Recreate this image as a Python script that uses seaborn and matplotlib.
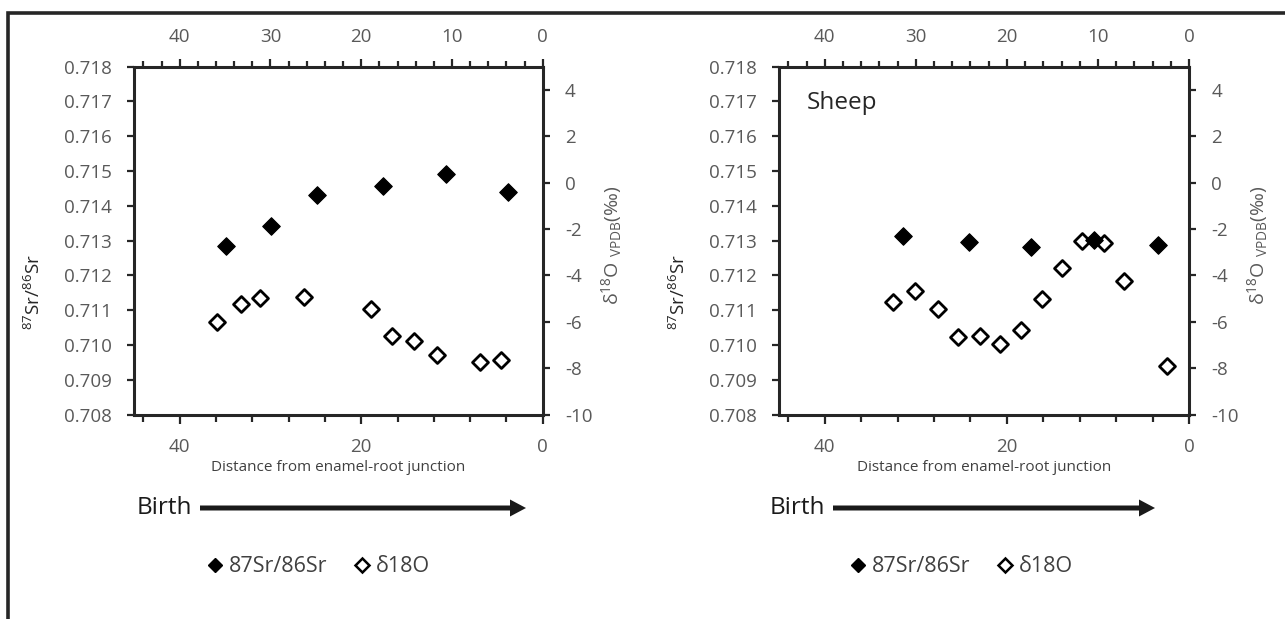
import matplotlib
matplotlib.use("Agg")
import numpy as np
import pandas as pd
import matplotlib.pyplot as plt
import seaborn as sns
from matplotlib.ticker import MultipleLocator, FixedLocator, FormatStrFormatter
from matplotlib.lines import Line2D
from matplotlib.patches import FancyArrow
from matplotlib.transforms import IdentityTransform

sns.set_theme(style="ticks")
plt.rcParams["font.family"] = ["Open Sans", "DejaVu Sans"]
plt.rcParams["mathtext.fontset"] = "custom"
plt.rcParams["mathtext.rm"] = "Open Sans"
plt.rcParams["mathtext.it"] = "Open Sans:italic"
plt.rcParams["mathtext.bf"] = "Open Sans:bold"
plt.rcParams["axes.unicode_minus"] = False

# ---------------- data ----------------
# left panel
sr_dist_left = [34.9, 29.9, 24.9, 17.6, 10.7, 3.8]
sr_left = [0.71284, 0.71343, 0.71432, 0.71456, 0.71492, 0.71440]
o_dist_left = [35.9, 33.2, 31.1, 26.3, 18.9, 16.6, 14.2, 11.7, 6.9, 4.6]
o_left = [-5.99, -5.25, -4.99, -4.94, -5.44, -6.61, -6.82, -7.44, -7.73, -7.67]

# right panel (Sheep)
sr_dist_right = [31.4, 24.2, 17.4, 10.4, 3.4]
sr_right = [0.71314, 0.71295, 0.71281, 0.71302, 0.71286]
o_dist_right = [32.5, 30.1, 27.6, 25.4, 23.0, 20.8, 18.5, 16.2, 14.0, 11.7, 9.3, 7.1, 2.4]
o_right = [-5.13, -4.69, -5.43, -6.66, -6.60, -6.95, -6.35, -5.02, -3.69, -2.50, -2.62, -4.26, -7.90]

sr_ticks = [0.708, 0.709, 0.710, 0.711, 0.712, 0.713, 0.714, 0.715, 0.716, 0.717, 0.718]
o_ticks = [-10, -8, -6, -4, -2, 0, 2, 4]
top_ticks = [0, 10, 20, 30, 40]
bottom_ticks = [0, 20, 40]

panel_titles = ["", "Sheep"]
legend_labels = ["87Sr/86Sr", "δ18O"]
x_label = "Distance from enamel-root junction"
sr_label = r"$^{87}$Sr/$^{86}$Sr"
o_label = r"δ$^{18}$O $_{\mathrm{VPDB}}$(‰)"

# ---------------- figure ----------------
W, H = 1285, 619
fig = plt.figure(figsize=(W / 100, H / 100), dpi=100)
fig.patch.set_facecolor("white")

TICK_C = "#595959"
DARK = "#262626"
AX_TOP, AX_BOT = 66.7, 414.5


def make_panel(x0, x1, sr_x, sr_y, o_x, o_y, title, legend_cx):
    ax = fig.add_axes([x0 / W, 1 - AX_BOT / H, (x1 - x0) / W, (AX_BOT - AX_TOP) / H])
    ax2 = ax.twinx()

    df_sr = pd.DataFrame({"dist": sr_x, "sr": sr_y})
    df_o = pd.DataFrame({"dist": o_x, "o": o_y})
    sns.scatterplot(data=df_o, x="dist", y="o", ax=ax2, marker="D", s=66,
                    color="white", edgecolor="black", linewidth=2.0, zorder=3)
    sns.scatterplot(data=df_sr, x="dist", y="sr", ax=ax, marker="D", s=80,
                    color="black", edgecolor="black", linewidth=0.8, zorder=4)

    ax.set_zorder(ax2.get_zorder() + 1)
    ax.patch.set_visible(False)

    ax.set_xlim(45, 0)
    ax.set_ylim(0.708, 0.718)
    ax2.set_ylim(-10, 5)

    # left y axis
    ax.yaxis.set_major_locator(FixedLocator(sr_ticks))
    ax.yaxis.set_major_formatter(FormatStrFormatter("%.3f"))
    ax.tick_params(axis="y", which="major", left=True, right=False, direction="out",
                   length=5, width=1.6, color=DARK, labelsize=13.5, labelcolor=TICK_C, pad=11)
    # right y axis
    ax2.yaxis.set_major_locator(FixedLocator(o_ticks))
    ax2.tick_params(axis="y", which="major", right=True, left=False, direction="out",
                    length=5, width=1.6, color=DARK, labelsize=13.5, labelcolor=TICK_C, pad=11)
    # bottom x axis
    ax.xaxis.set_major_locator(FixedLocator(bottom_ticks))
    ax.xaxis.set_minor_locator(MultipleLocator(4))
    ax.tick_params(axis="x", which="major", bottom=True, top=False, direction="out",
                   length=6.5, width=1.6, color=DARK, labelsize=13.5, labelcolor=TICK_C, pad=10.5)
    ax.tick_params(axis="x", which="minor", bottom=True, top=False, direction="out",
                   length=5, width=1.6, color=DARK)
    ax2.tick_params(axis="x", which="both", bottom=False, top=False, labelbottom=False)

    # top x axis
    sec = ax.secondary_xaxis("top")
    sec.xaxis.set_major_locator(FixedLocator(top_ticks))
    sec.xaxis.set_minor_locator(MultipleLocator(2))
    sec.tick_params(axis="x", which="major", direction="out", length=6, width=1.6,
                    color=DARK, labelsize=13.5, labelcolor=TICK_C, pad=9)
    sec.tick_params(axis="x", which="minor", direction="out", length=4, width=1.6, color=DARK)
    sec.spines["top"].set_linewidth(2.2)
    sec.spines["top"].set_color(DARK)

    for name, sp in ax.spines.items():
        sp.set_visible(name in ("left", "bottom"))
        sp.set_linewidth(2.2)
        sp.set_color(DARK)
    for name, sp in ax2.spines.items():
        sp.set_visible(name == "right")
        sp.set_linewidth(2.2)
        sp.set_color(DARK)

    ax.set_xlabel(x_label, fontsize=11, color="#404040", labelpad=3)
    ax.set_ylabel(sr_label, fontsize=13.5, color=DARK, ha="center", va="center")
    ax.yaxis.set_label_coords(-0.245, 0.352)
    ax2.set_ylabel(o_label, fontsize=14, color=TICK_C, ha="center", va="center", rotation=90)
    ax2.yaxis.set_label_coords(1.168, 0.487)

    if title:
        ax.text(0.067, 0.877, title, transform=ax.transAxes, fontsize=17.5,
                color=DARK, ha="left", va="baseline")

    handles = [
        Line2D([], [], marker="D", ls="", color="black", markersize=7.5),
        Line2D([], [], marker="D", ls="", markerfacecolor="white",
               markeredgecolor="black", markeredgewidth=1.8, markersize=7),
    ]
    fig.legend(handles, legend_labels, loc="center",
               bbox_to_anchor=(legend_cx / W, 1 - 567 / H), ncol=2, frameon=False,
               fontsize=15.5, handlelength=0.6, handletextpad=0.35, columnspacing=1.3,
               labelcolor="#404040", borderpad=0)
    return ax, ax2


make_panel(134.3, 542.8, sr_dist_left, sr_left, o_dist_left, o_left, panel_titles[0], 319)
make_panel(779.3, 1189.0, sr_dist_right, sr_right, o_dist_right, o_right, panel_titles[1], 962)

# "Birth" arrows
for tx, a0, a1 in [(137, 200, 526), (770, 833, 1155)]:
    fig.text(tx / W, 1 - 508 / H, "Birth", fontsize=17.5, color="#1a1a1a",
             ha="left", va="center")
    fig.add_artist(FancyArrow(a0, H - 508, a1 - a0, 0, width=5, head_width=17,
                              head_length=16, length_includes_head=True,
                              transform=IdentityTransform(), color="#1a1a1a", lw=0))

# outer frame (top and left edges)
fig.add_artist(Line2D([8.3 / W, 8.3 / W, 1.01], [-0.01, 1 - 12.9 / H, 1 - 12.9 / H],
                      transform=fig.transFigure, color=DARK, lw=2.6,
                      solid_joinstyle="miter"))

fig.savefig("out.png", dpi=100, facecolor="white")
